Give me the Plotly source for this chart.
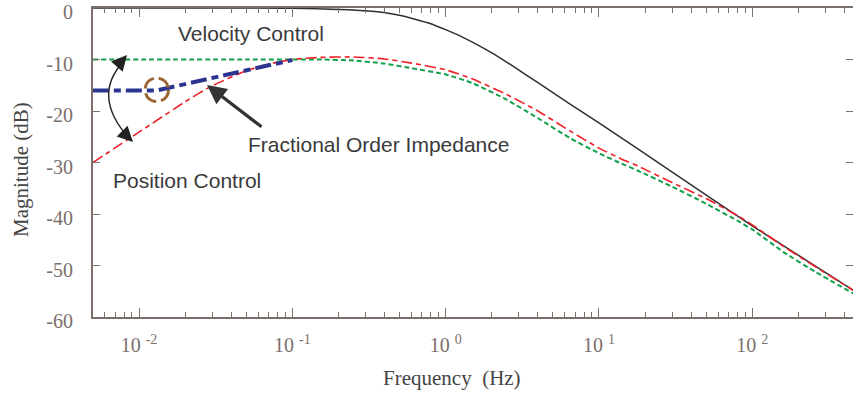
import plotly.graph_objects as go

# ---------------- data ----------------
vel_freq = [0.005, 0.1, 0.316, 0.5, 0.79, 1.0, 1.26, 1.58, 2.0, 2.5, 3.16, 4.0, 6.3, 10, 31.6, 100, 455]
vel_mag = [0.0, -0.05, -0.6, -1.4, -3.0, -4.2, -5.5, -7.0, -8.7, -10.5, -12.5, -14.5, -18.4, -22.3, -32.3, -42.3, -54.8]

pos_freq = [0.005, 0.01, 0.02, 0.03, 0.05, 0.07, 0.1, 0.15, 0.25, 0.4, 0.6, 1.0, 1.5, 2.5, 4.0, 6.5, 10, 14, 18, 30, 50, 80, 100, 160, 260, 455]
pos_mag = [-30.0, -24.1, -18.2, -15.1, -12.2, -10.9, -10.0, -9.6, -9.5, -9.9, -10.7, -12.0, -13.8, -16.8, -20.0, -23.9, -27.2, -29.3, -30.7, -33.9, -37.0, -40.3, -42.1, -46.3, -50.3, -54.8]

comb_freq = [0.005, 0.05, 0.1, 0.15, 0.25, 0.4, 0.6, 1.0, 1.5, 2.5, 4.0, 6.5, 10, 14, 18, 30, 50, 80, 100, 160, 260, 455]
comb_mag = [-10.0, -10.0, -10.0, -10.0, -10.2, -10.8, -11.7, -12.9, -14.6, -17.8, -21.4, -25.3, -28.2, -30.2, -31.6, -34.7, -38.0, -41.3, -43.0, -47.4, -51.3, -55.4]

frac_freq = [0.005, 0.0131, 0.1]
frac_mag = [-16.0, -16.0, -10.1]

y_ticks = [0, -10, -20, -30, -40, -50, -60]
y_ticktext = ["0", "-10", "-20", "-30", "-40", "-50", "-60"]
x_ticks = [0.01, 0.1, 1, 10, 100]
x_ticktext = ["10 <sup>-2</sup>", "10 <sup>-1</sup>", "10 <sup>0</sup>", "10 <sup>1</sup>", "10 <sup>2</sup>"]

# ---------------- layout helpers (pixel -> paper) ----------------
W, H = 853, 394
L, R, T, B = 93, 0, 8, 77
PW, PH = W - L - R, H - T - B


def px(x):
    return (x - L) / PW


def py(y):
    return (H - B - y) / PH


AX = "#7b6f6b"
TXT = "#3a3a3a"

fig = go.Figure()
fig.add_trace(go.Scatter(x=vel_freq, y=vel_mag, mode="lines", line=dict(color="#2f2f2f", width=1.5, shape="spline", smoothing=0.5), showlegend=False))
fig.add_trace(go.Scatter(x=comb_freq, y=comb_mag, mode="lines", line=dict(color="#13a04b", width=2, dash="5px,3px", shape="spline", smoothing=0.5), showlegend=False))
fig.add_trace(go.Scatter(x=pos_freq, y=pos_mag, mode="lines", line=dict(color="#ee1f26", width=1.6, dash="11px,4px,5px,4px", shape="spline", smoothing=0.5), showlegend=False))
fig.add_trace(go.Scatter(x=frac_freq, y=frac_mag, mode="lines", line=dict(color="#2b3590", width=4, dash="16px,5px,7px,5px"), showlegend=False))

minor_vals = [m * d for d in [0.001, 0.01, 0.1, 1, 10, 100] for m in range(2, 10)]

fig.update_xaxes(
    type="log", range=[-2.3, 2.657], automargin=False,
    showline=True, linecolor=AX, linewidth=2, mirror="ticks",
    ticks="inside", ticklen=9, tickwidth=1.2, tickcolor=AX,
    tickvals=x_ticks, ticktext=x_ticktext,
    tickfont=dict(family="Liberation Serif", size=20, color=AX),
    ticklabelstandoff=9,
    minor=dict(tickvals=minor_vals, ticks="inside", ticklen=5, tickwidth=1, tickcolor=AX),
    showgrid=False, zeroline=False,
)
fig.update_yaxes(
    range=[-60, 0], automargin=False,
    showline=True, linecolor=AX, linewidth=2, mirror="ticks",
    ticks="inside", ticklen=7, tickwidth=1.2, tickcolor=AX,
    tickvals=y_ticks, ticktext=y_ticktext,
    tickfont=dict(family="Liberation Serif", size=20, color=AX),
    ticklabelstandoff=14, ticklabelshift=4,
    showgrid=False, zeroline=False,
)

annotations = [
    dict(text="Velocity Control", x=px(251), y=py(33)),
    dict(text="Fractional Order Impedance", x=px(378), y=py(144)),
    dict(text="Position Control", x=px(187), y=py(180)),
]
ann = []
for a in annotations:
    ann.append(dict(text=a["text"], x=a["x"], y=a["y"], xref="paper", yref="paper",
                    showarrow=False, xanchor="center", yanchor="middle",
                    font=dict(family="Liberation Sans", size=21, color=TXT)))

# axis titles
ann.append(dict(text="Frequency  (Hz)", x=px(452), y=py(378), xref="paper", yref="paper", showarrow=False,
                xanchor="center", yanchor="middle", font=dict(family="Liberation Serif", size=21, color="#444444")))
ann.append(dict(text="Magnitude (dB)", x=px(21), y=py(170), xref="paper", yref="paper", showarrow=False,
                textangle=-90, xanchor="center", yanchor="middle", font=dict(family="Liberation Serif", size=21, color="#444444")))

# straight arrow pointing at the fractional-order curve
ann.append(dict(text="", x=px(207), y=py(85), xref="paper", yref="paper", showarrow=True,
                ax=56, ay=43, axref="pixel", ayref="pixel", arrowhead=2, arrowsize=1.2, arrowwidth=3.2,
                arrowcolor="#333333", standoff=0))
# heads of the curved double arrow
ann.append(dict(text="", x=px(127), y=py(55), xref="paper", yref="paper", showarrow=True,
                ax=-7, ay=8, arrowhead=2, arrowsize=2.2, arrowwidth=1.4, arrowcolor="#222222", standoff=0))
ann.append(dict(text="", x=px(133), y=py(142), xref="paper", yref="paper", showarrow=True,
                ax=-7, ay=-7, arrowhead=2, arrowsize=2.2, arrowwidth=1.4, arrowcolor="#222222", standoff=0))

shapes = [
    dict(type="path", xref="paper", yref="paper",
         path=f"M {px(123)},{py(62)} Q {px(92)},{py(96)} {px(128)},{py(137)}",
         line=dict(color="#222222", width=1.4)),
    dict(type="circle", xref="paper", yref="paper",
         x0=px(145), x1=px(168.5), y0=py(101.5), y1=py(78),
         line=dict(color="#9c6432", width=3, dash="14px,5px")),
]

fig.update_layout(
    width=W, height=H,
    margin=dict(l=L, r=R, t=T, b=B, autoexpand=False),
    paper_bgcolor="white", plot_bgcolor="white",
    annotations=ann, shapes=shapes, showlegend=False,
)

fig.write_html("out.html", config={"displayModeBar": False},
               post_script="document.body.style.margin='0';document.body.style.overflow='hidden';")
